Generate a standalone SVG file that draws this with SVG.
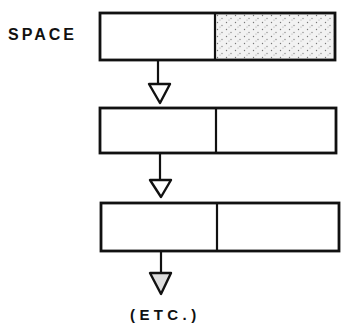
<svg xmlns="http://www.w3.org/2000/svg" width="343" height="327" viewBox="0 0 343 327">
<style>
.box{fill:none;stroke:#111;stroke-width:2.8}
.div{stroke:#111;stroke-width:2.2}
.line{stroke:#111;stroke-width:2.2;fill:none}
.tri{fill:#fff;stroke:#111;stroke-width:2.4;stroke-linejoin:round}
.lbl{font-family:"Liberation Sans",Arial,sans-serif;fill:#111;font-weight:bold}
</style>
<defs>
<pattern id="stip" width="9" height="7" patternUnits="userSpaceOnUse">
<rect width="9" height="7" fill="#f2f2f2"/>
<circle cx="1.5" cy="1.5" r="0.7" fill="#777"/>
<circle cx="6" cy="4.5" r="0.7" fill="#888"/>
<circle cx="4" cy="6" r="0.5" fill="#999"/>
</pattern>
</defs>
<rect width="343" height="327" fill="#fff"/>
<text class="lbl" x="8" y="40" font-size="16" letter-spacing="3">SPACE</text>
<g id="node1">
<rect x="215" y="13" width="120" height="47" fill="url(#stip)"/>
<rect class="box" x="100" y="13" width="235" height="47"/>
<line class="div" x1="215" y1="13" x2="215" y2="60"/>
</g>
<g id="node2">
<rect class="box" x="100" y="108" width="236" height="45"/>
<line class="div" x1="216" y1="108" x2="216" y2="153"/>
</g>
<g id="node3">
<rect class="box" x="101" y="203" width="238" height="48"/>
<line class="div" x1="217" y1="203" x2="217" y2="251"/>
</g>
<g id="connectors">
<line class="line" x1="158" y1="60" x2="158" y2="84"/>
<path class="tri" d="M149,84 L170,84 L160,103 Z"/>
<line class="line" x1="160" y1="153" x2="160" y2="180"/>
<path class="tri" d="M150,180 L171,180 L161,197 Z"/>
<line class="line" x1="161" y1="251" x2="161" y2="273"/>
<path class="tri" d="M150,273 L171,273 L161,294 Z" style="fill:#ddd"/>
</g>
<text class="lbl" x="130" y="320" font-size="15" letter-spacing="4.4">(ETC.)</text>
</svg>
